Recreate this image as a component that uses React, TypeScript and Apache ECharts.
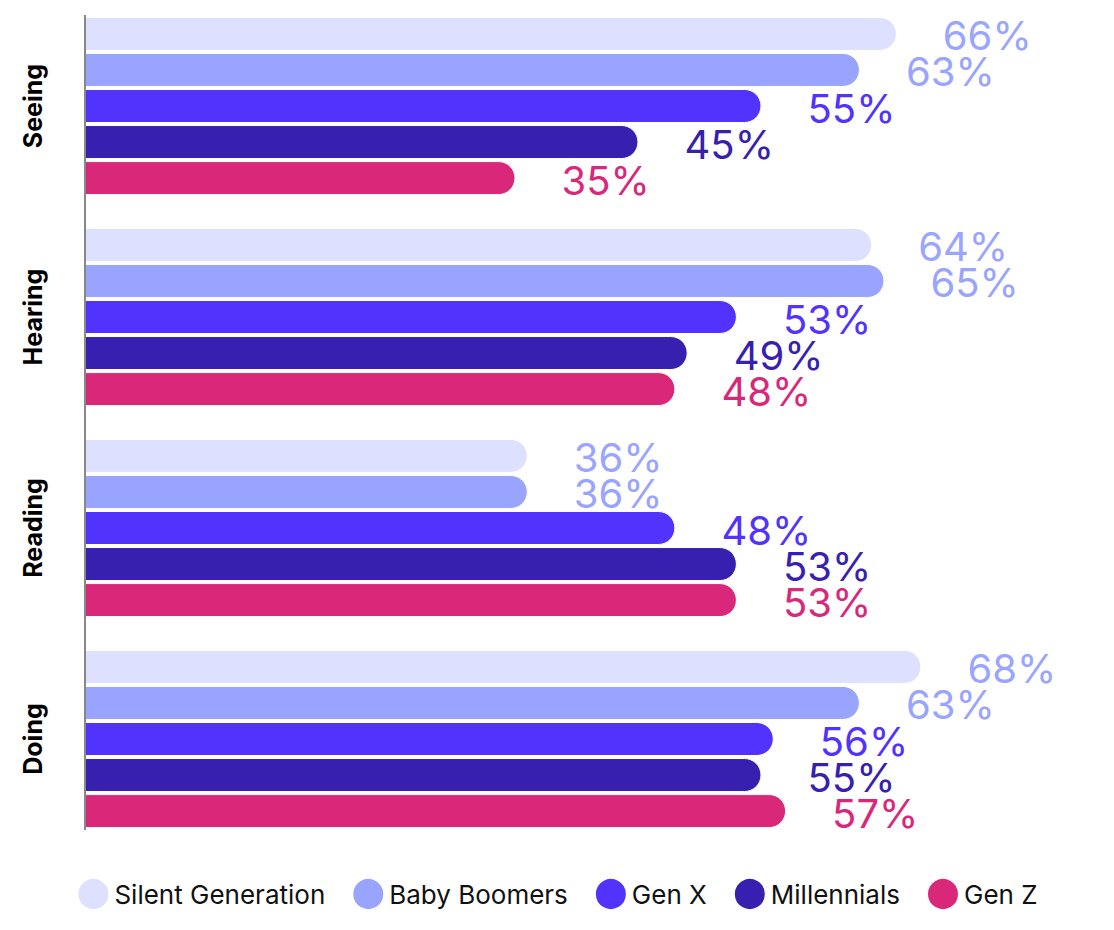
import React, { useEffect, useRef } from "react";
import * as echarts from "echarts";

const categories = ["Seeing", "Hearing", "Reading", "Doing"];
const seriesNames = ["Silent Generation", "Baby Boomers", "Gen X", "Millennials", "Gen Z"];
const silentGeneration = [66, 64, 36, 68];
const babyBoomers = [63, 65, 36, 63];
const genX = [55, 53, 48, 56];
const millennials = [45, 49, 53, 55];
const genZ = [35, 48, 53, 57];
const seriesValues = [silentGeneration, babyBoomers, genX, millennials, genZ];
const barColors = ["#dde0fe", "#99a4fe", "#5233fe", "#3720b0", "#d9287a"];
const labelColors = ["#9aa5ff", "#99a4fe", "#5233fe", "#3720b0", "#d9287a"];

export default function App() {
  const ref = useRef<HTMLDivElement>(null);
  useEffect(() => {
    if (!ref.current) return;
    const chart = echarts.init(ref.current, null, { renderer: "svg" });
    chart.setOption({
      animation: false,
      grid: { left: 85, width: 984, top: 0.5, height: 844 },
      xAxis: {
        type: "value",
        min: 0,
        max: 80,
        show: false,
      },
      yAxis: {
        type: "category",
        data: categories,
        inverse: true,
        axisLine: { show: false },
        axisTick: { show: false },
        axisLabel: {
          rotate: 90,
          margin: 40,
          fontFamily: "Inter",
          fontWeight: "bold",
          fontSize: 25,
          color: "#000",
        },
      },
      legend: {
        top: 872,
        left: "center",
        icon: "circle",
        itemWidth: 32,
        itemHeight: 32,
        itemGap: 26,
        textStyle: { fontFamily: "Inter", fontSize: 26, color: "#111" },
        data: seriesNames,
      },
      graphic: [
        {
          type: "line",
          shape: { x1: 85, y1: 15, x2: 85, y2: 830 },
          style: { stroke: "#888", lineWidth: 2 },
          z: 10,
        },
      ],
      series: seriesNames.map((name, i) => ({
        name,
        type: "bar",
        data: seriesValues[i],
        barWidth: 34,
        barGap: "6%",
        itemStyle: {
          color: barColors[i],
          borderColor: "#fff",
          borderWidth: 1,
          borderRadius: [0, 17, 17, 0],
        },
        label: {
          show: true,
          position: "right",
          distance: 46,
          formatter: "{c}%",
          fontFamily: "Inter",
          fontSize: 40,
          color: labelColors[i],
          offset: [0, 2],
        },
      })),
    });
    return () => chart.dispose();
  }, []);
  return (
    <div
      ref={ref}
      style={{ position: "absolute", left: 0, top: 0, width: 1114, height: 930 }}
    />
  );
}
